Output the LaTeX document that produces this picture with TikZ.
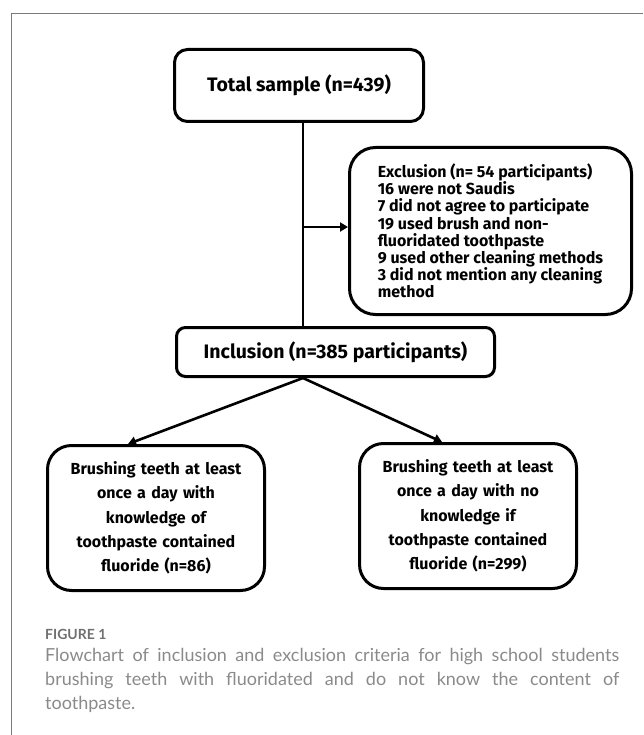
\documentclass[tikz,border=0pt]{standalone}
\usepackage{fontspec}
\setmainfont{Fira Sans}
\newfontfamily\capfont{Lato}
\usetikzlibrary{arrows.meta}
\definecolor{framegray}{HTML}{7A7A7A}
\definecolor{capgray}{HTML}{8A8A8A}
\definecolor{figgray}{HTML}{707070}
\begin{document}
\begin{tikzpicture}[x=1pt,y=-1pt,
  box/.style={draw, line width=3pt, align=center, inner sep=0pt},
  arr/.style={line width=2.6pt, -{Triangle[length=8pt,width=9pt]}},
  ln/.style={line width=2.8pt},
  bigtxt/.style={font=\bfseries\fontsize{19.5}{22}\selectfont},
  smalltxt/.style={font=\bfseries\fontsize{16}{17.2}\selectfont},
  midtxt/.style={font=\bfseries\fontsize{16}{24.3}\selectfont}]
\useasboundingbox (0,0) rectangle (643,735);
\draw[framegray, line width=1.2pt] (643,13.5) -- (11.7,13.5) -- (11.7,735);
\node[box, bigtxt, rounded corners=13pt, minimum width=249pt, minimum height=72pt] (total) at (299,85.5) {Total sample (n=439)};
\node[box, smalltxt, rounded corners=26pt, minimum width=282pt, minimum height=167pt, align=left] (excl) at (490.5,231) {Exclusion (n= 54 participants)\\16 were not Saudis\\7 did not agree to participate\\19 used brush and non-\\fluoridated toothpaste\\9 used other cleaning methods\\3 did not mention any cleaning\\method};
\node[box, bigtxt, rounded corners=9pt, minimum width=318pt, minimum height=49pt] (incl) at (335.5,352) {Inclusion (n=385 participants)};
\node[box, midtxt, rounded corners=24pt, minimum width=217pt, minimum height=145pt, text width=205pt] (left) at (156,518) {Brushing teeth at least\\once a day with\\knowledge of\\toothpaste contained\\fluoride (n=86)};
\node[box, midtxt, rounded corners=24pt, minimum width=217pt, minimum height=145pt, text width=205pt] (right) at (468,516) {Brushing teeth at least\\once a day with no\\knowledge if\\toothpaste contained\\fluoride (n=299)};
\coordinate (spine) at (303,0);
\coordinate (ea) at ([yshift=4pt]excl.west);
\draw[ln] (total.south -| spine) -- (incl.north -| spine);
\draw[arr] (ea -| spine) -- (ea);
\draw[arr] (incl.south -| spine) -- ([xshift=-28pt]left.north);
\draw[arr] (incl.south -| spine) -- ([xshift=-26pt]right.north);
\node[anchor=base west, inner sep=0pt, text=figgray, font=\capfont\bfseries\fontsize{14}{16}\selectfont] (fig) at (45,639) {FIGURE 1};
\node[anchor=north west, inner sep=0pt, text width=574pt, align=justify, text=capgray, font=\capfont\fontsize{18}{24}\selectfont] (cap) at (45,648) {Flowchart of inclusion and exclusion criteria for high school students\linebreak brushing teeth with fluoridated and do not know the content of\linebreak toothpaste.};
\end{tikzpicture}
\end{document}
